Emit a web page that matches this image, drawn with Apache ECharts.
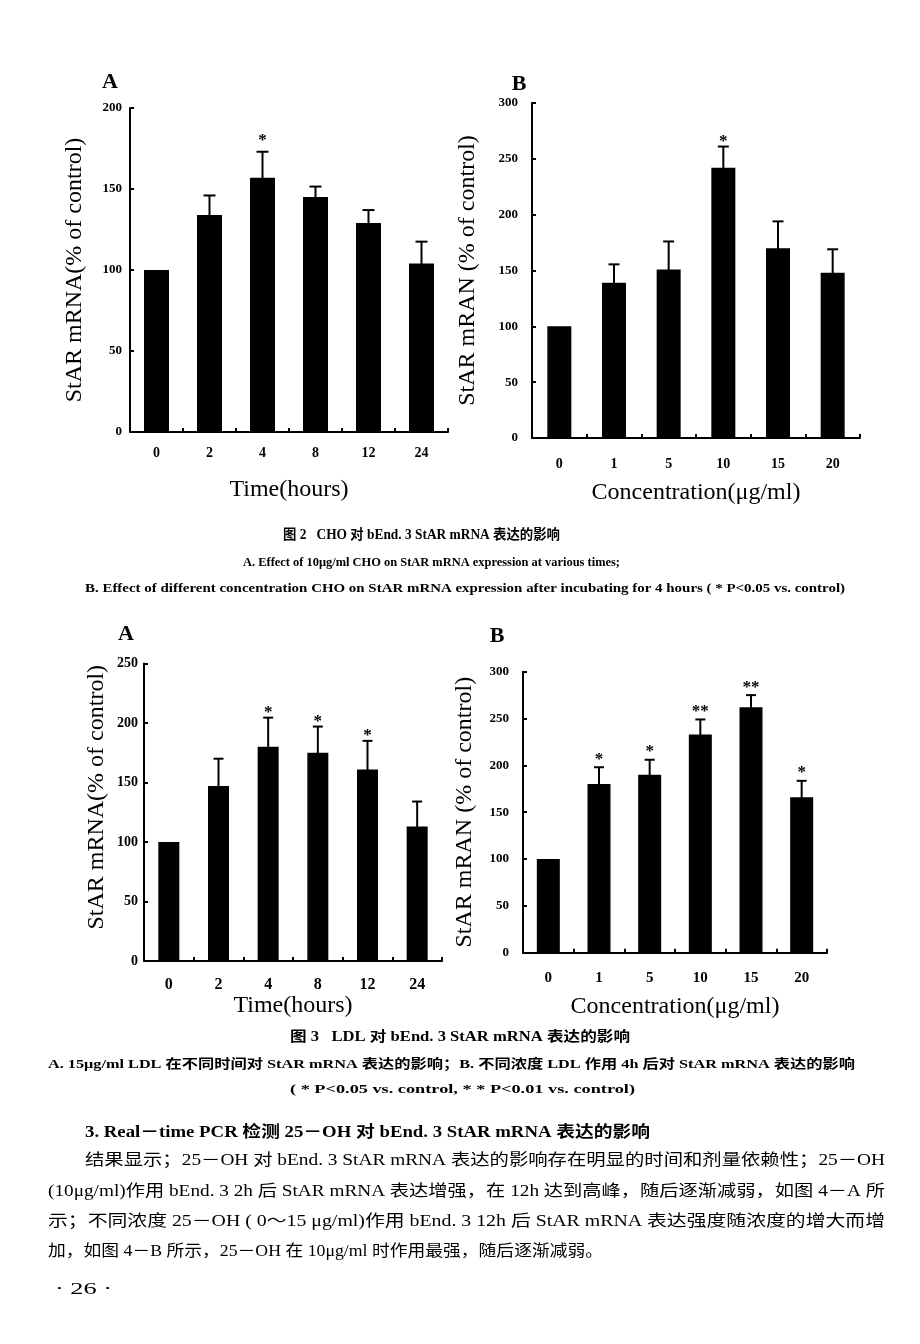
<!DOCTYPE html>
<html><head><meta charset="utf-8">
<script src="https://cdn.jsdelivr.net/npm/echarts@6/dist/echarts.min.js"></script>
<style>html,body{margin:0;padding:0;background:#fff}#c{width:920px;height:1344px}</style>
</head><body><div id="c"></div>
<script>
// ---------- data ----------
const timeCats = ['0', '2', '4', '8', '12', '24'];
const concCats = ['0', '1', '5', '10', '15', '20'];

const choTimeMean = [100, 134, 157, 145, 129, 104];
const choTimeErr  = [0, 12, 16, 6.5, 8, 13.5];
const choTimeSig  = ['', '', '*', '', '', ''];

const choConcMean = [100, 139, 151, 242, 170, 148];
const choConcErr  = [0, 16.5, 25, 19, 24, 21];
const choConcSig  = ['', '', '', '*', '', ''];

const ldlTimeMean = [100, 147, 180, 175, 161, 113];
const ldlTimeErr  = [0, 23, 24.5, 22, 24, 21];
const ldlTimeSig  = ['', '', '*', '*', '*', ''];

const ldlConcMean = [100, 180, 190, 233, 262, 166];
const ldlConcErr  = [0, 18, 16, 16, 13, 17.5];
const ldlConcSig  = ['', '*', '*', '**', '**', '*'];

const yMaxes = [200, 300, 250, 300];
const yNames = ['StAR mRNA(% of control)', 'StAR mRAN (% of control)', 'StAR mRNA(% of control)', 'StAR mRAN (% of control)'];
const xNames = ['Time(hours)', 'Concentration(μg/ml)', 'Time(hours)', 'Concentration(μg/ml)'];
const panelLetters = ['A', 'B', 'A', 'B'];

const captionLines = [
  '图 2   CHO 对 bEnd. 3 StAR mRNA 表达的影响',
  'A. Effect of 10μg/ml CHO on StAR mRNA expression at various times;',
  'B. Effect of different concentration CHO on StAR mRNA expression after incubating for 4 hours ( * P<0.05 vs. control)',
  '图 3   LDL 对 bEnd. 3 StAR mRNA 表达的影响',
  'A. 15μg/ml LDL 在不同时间对 StAR mRNA 表达的影响；B. 不同浓度 LDL 作用 4h 后对 StAR mRNA 表达的影响',
  '( * P<0.05 vs. control, * * P<0.01 vs. control)'
];
const bodyLines = [
  '3. Real－time PCR 检测 25－OH 对 bEnd. 3 StAR mRNA 表达的影响',
  '结果显示；25－OH 对 bEnd. 3 StAR mRNA 表达的影响存在明显的时间和剂量依赖性；25－OH',
  '(10μg/ml)作用 bEnd. 3 2h 后 StAR mRNA 表达增强，在 12h 达到高峰，随后逐渐减弱，如图 4－A 所',
  '示；不同浓度 25－OH ( 0～15 μg/ml)作用 bEnd. 3 12h 后 StAR mRNA 表达强度随浓度的增大而增',
  '加，如图 4－B 所示，25－OH 在 10μg/ml 时作用最强，随后逐渐减弱。',
  '· 26 ·'
];

// ---------- layout / style ----------
const SERIF = '"Liberation Serif","Noto Sans CJK SC",serif';
const panels = [
  {cats: timeCats, mean: choTimeMean, err: choTimeErr, sig: choTimeSig,
   left: 130, top: 108, width: 318, height: 324, barW: 25, cap: 12, starOff: 11,
   yGap: 43, xGap: 46, yLM: 8, xLM: 14, xLS: 14, yLS: 13, yPad: [0,0,0,0], letter: [110, 82]},
  {cats: concCats, mean: choConcMean, err: choConcErr, sig: choConcSig,
   left: 532, top: 103, width: 328, height: 335, barW: 24, cap: 11, starOff: 5,
   yGap: 52, xGap: 43, yLM: 14, xLM: 19, xLS: 14, yLS: 13, yPad: [0,0,0,0], letter: [519, 84]},
  {cats: timeCats, mean: ldlTimeMean, err: ldlTimeErr, sig: ldlTimeSig,
   left: 144, top: 663.5, width: 298, height: 297.5, barW: 21, cap: 10, starOff: 5,
   yGap: 35, xGap: 30, yLM: 6, xLM: 16, xLS: 16, yLS: 14, yPad: [0,0,0,30], letter: [126, 634]},
  {cats: concCats, mean: ldlConcMean, err: ldlConcErr, sig: ldlConcSig,
   left: 523, top: 671.7, width: 304, height: 281, barW: 23, cap: 10, starOff: 8,
   yGap: 46, xGap: 42, yLM: 14, xLM: 18, xLS: 15, yLS: 13, yPad: [0,0,0,0], letter: [497, 636]}
];

const captionPos = [
  {x1: 283, x2: 560, y: 535, size: 14},
  {x1: 243, x2: 620, y: 563, size: 12},
  {x1: 85,  x2: 845, y: 589, size: 12},
  {x1: 290, x2: 630, y: 1037, size: 14},
  {x1: 48,  x2: 855, y: 1065, size: 13},
  {x1: 290, x2: 635, y: 1090, size: 12}
];
const bodyPos = [
  {x1: 85, x2: 650, y: 1133, size: 16, bold: true},
  {x1: 85, x2: 885, y: 1161, size: 16},
  {x1: 48, x2: 885, y: 1192, size: 16},
  {x1: 48, x2: 885, y: 1222, size: 16},
  {x1: 48, x2: 603, y: 1252, size: 16},
  {x1: 55, x2: 112, y: 1290, size: 16}
];

const mctx = document.createElement('canvas').getContext('2d');
function fitText(text, p, bold) {
  const font = (bold ? 'bold ' : '') + p.size + 'px ' + SERIF;
  mctx.font = font;
  const w = mctx.measureText(text).width;
  const s = (p.x2 - p.x1) / w;
  return {type: 'text', x: p.x1, y: p.y, scaleX: s, silent: true,
    style: {text: text, font: font, fill: '#000', align: 'left', verticalAlign: 'middle'}};
}

const grids = [], xAxes = [], yAxes = [], series = [], graphics = [];
panels.forEach((p, k) => {
  grids.push({left: p.left, top: p.top, width: p.width, height: p.height, containLabel: false, outerBoundsMode: 'none'});
  xAxes.push({type: 'category', gridIndex: k, data: p.cats, boundaryGap: true,
    axisLine: {show: true, lineStyle: {color: '#000', width: 2}},
    axisTick: {show: true, inside: true, length: 4, lineStyle: {color: '#000', width: 2}},
    axisLabel: {color: '#000', fontFamily: SERIF, fontWeight: 'bold', fontSize: p.xLS, margin: p.xLM},
    splitLine: {show: false},
    name: xNames[k], nameLocation: 'middle', nameGap: p.xGap,
    nameTextStyle: {color: '#000', fontFamily: SERIF, fontSize: 24}});
  yAxes.push({type: 'value', gridIndex: k, min: 0, max: yMaxes[k], interval: 50,
    axisLine: {show: true, lineStyle: {color: '#000', width: 2}},
    axisTick: {show: true, inside: true, length: 4, lineStyle: {color: '#000', width: 2}},
    axisLabel: {color: '#000', fontFamily: SERIF, fontWeight: 'bold', fontSize: p.yLS, margin: p.yLM},
    splitLine: {show: false},
    name: yNames[k], nameLocation: 'middle', nameGap: p.yGap, nameRotate: 90,
    nameTextStyle: {color: '#000', fontFamily: SERIF, fontSize: 24, padding: p.yPad}});
  series.push({type: 'bar', xAxisIndex: k, yAxisIndex: k, data: p.mean, barWidth: p.barW,
    itemStyle: {color: '#000'}, silent: true, animation: false});
  const cdata = p.mean.map((m, i) => [i, m, p.err[i]]);
  series.push({type: 'custom', xAxisIndex: k, yAxisIndex: k, data: cdata, silent: true, animation: false,
    encode: {x: 0, y: 1}, z: 5,
    renderItem: function (params, api) {
      const i = api.value(0), m = api.value(1), e = api.value(2);
      const base = api.coord([i, m]);
      const top = api.coord([i, m + e]);
      const ch = [];
      if (e > 0) {
        ch.push({type: 'line', shape: {x1: top[0], y1: base[1] + 2, x2: top[0], y2: top[1]}, style: {stroke: '#000', lineWidth: 2}});
        ch.push({type: 'line', shape: {x1: top[0] - p.cap / 2, y1: top[1], x2: top[0] + p.cap / 2, y2: top[1]}, style: {stroke: '#000', lineWidth: 2}});
      }
      const s = p.sig[params.dataIndex];
      if (s) ch.push({type: 'text', x: top[0], y: top[1] - p.starOff,
        style: {text: s, font: 'bold 17px ' + SERIF, fill: '#000', align: 'center', verticalAlign: 'middle'}});
      return {type: 'group', children: ch};
    }});
  graphics.push({type: 'text', x: p.letter[0], y: p.letter[1], silent: true,
    style: {text: panelLetters[k], font: 'bold 22px ' + SERIF, fill: '#000', align: 'center', verticalAlign: 'middle'}});
});
captionLines.forEach((t, i) => graphics.push(fitText(t, captionPos[i], true)));
bodyLines.forEach((t, i) => graphics.push(fitText(t, bodyPos[i], !!bodyPos[i].bold)));

const chart = echarts.init(document.getElementById('c'), null, {renderer: 'canvas'});
chart.setOption({
  backgroundColor: '#fff',
  animation: false,
  grid: grids, xAxis: xAxes, yAxis: yAxes, series: series,
  graphic: graphics
});
</script></body></html>
